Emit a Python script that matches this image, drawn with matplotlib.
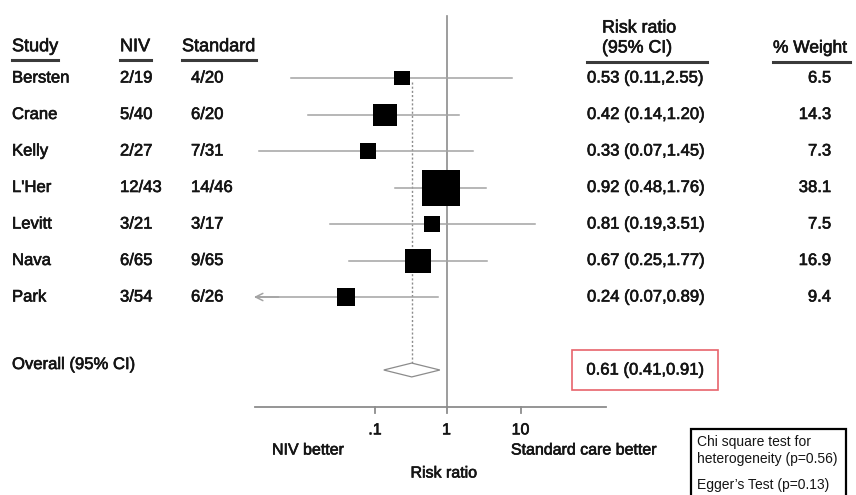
import numpy as np
import matplotlib
matplotlib.use('Agg')
import matplotlib.pyplot as plt
from matplotlib import transforms
from matplotlib import patheffects as pe
from matplotlib.patches import Rectangle, Polygon
from matplotlib.path import Path

plt.rcParams['font.family'] = ['Liberation Sans', 'DejaVu Sans']

# ---------------- data ----------------
studies = ["Bersten", "Crane", "Kelly", "L'Her", "Levitt", "Nava", "Park"]
niv = ["2/19", "5/40", "2/27", "12/43", "3/21", "6/65", "3/54"]
standard = ["4/20", "6/20", "7/31", "14/46", "3/17", "9/65", "6/26"]
rr = [0.53, 0.42, 0.33, 0.92, 0.81, 0.67, 0.24]
rr_lo = [0.11, 0.14, 0.07, 0.48, 0.19, 0.25, 0.07]
rr_hi = [2.55, 1.20, 1.45, 1.76, 3.51, 1.77, 0.89]
weight = [6.5, 14.3, 7.3, 38.1, 7.5, 16.9, 9.4]
off_scale_left = [False, False, False, False, False, False, True]
overall_rr, overall_lo, overall_hi = 0.61, 0.41, 0.91
xtick_labels = [".1", "1", "10"]

# ---------------- figure ----------------
W, H = 856, 495
fig = plt.figure(figsize=(W / 100, H / 100), dpi=100)
fig.patch.set_facecolor('white')

def fx(px):
    return px / W

def fy(py):
    return 1 - py / H

# forest axes: x pixels 255..606, full height
null_px, dec_px = 446.5, 162.0
x_left_px, x_right_px = 255, 606
ax = fig.add_axes([fx(x_left_px), 0, (x_right_px - x_left_px) / W, 1])
ax.set_xscale('log')
xmin = 10 ** ((x_left_px - null_px) / dec_px)
xmax = 10 ** ((x_right_px - null_px) / dec_px)
ax.set_xlim(xmin, xmax)
row0_px, row_px = 78.0, 36.5
ax.set_ylim((H - row0_px) / row_px + 1, (0 - row0_px) / row_px + 1)
ax.axis('off')

rows = np.arange(1, len(studies) + 1)
overall_row = len(studies) + 2
axis_row = overall_row + 1

ci_col = '#a3a3a3'
ref_col = '#8c8c8c'
txt_col = '#141414'
heavy = [pe.withStroke(linewidth=0.45, foreground=txt_col)]

# null line
ax.plot([1, 1], [(16 - row0_px) / row_px + 1, axis_row], color=ref_col, lw=1.2, zorder=1)
# overall dashed line
ax.plot([overall_rr, overall_rr], [1.1, overall_row], color=ref_col, lw=1.0,
        ls=(0, (1.5, 1.5)), zorder=1)

# CIs and squares
sq = Path([(-0.5, -0.47), (0.5, -0.47), (0.5, 0.47), (-0.5, 0.47), (-0.5, -0.47)],
          [Path.MOVETO, Path.LINETO, Path.LINETO, Path.LINETO, Path.CLOSEPOLY])
for r, m, lo, hi, w, clip in zip(rows, rr, rr_lo, rr_hi, weight, off_scale_left):
    if clip:
        ax.plot([xmin * 1.02, hi], [r, r], color=ci_col, lw=1.1, zorder=2)
        ax.annotate('', xy=(xmin * 0.985, r), xytext=(xmin * 1.4, r),
                    arrowprops=dict(arrowstyle='->', color=ci_col, lw=1.1,
                                    shrinkA=0, shrinkB=0, mutation_scale=13),
                    annotation_clip=False, zorder=2)
    else:
        ax.plot([lo, hi], [r, r], color=ci_col, lw=1.1, zorder=2)
    side_px = 6.15 * np.sqrt(w)
    ax.plot([m], [r], marker=sq, markersize=side_px * 0.72, color='black',
            markeredgewidth=0, linestyle='none', zorder=3)

# diamond
dh = 0.19
ax.add_patch(Polygon([(overall_lo, overall_row), (overall_rr, overall_row - dh),
                      (overall_hi, overall_row), (overall_rr, overall_row + dh)],
                     closed=True, facecolor='white', edgecolor=ref_col, lw=0.9, zorder=3))

# x axis
ax.plot([xmin, xmax], [axis_row, axis_row], color=ref_col, lw=1.3, clip_on=False)
tick_pos = [10 ** ((375 - null_px) / dec_px), 1.0, 10 ** ((520.5 - null_px) / dec_px)]
for tp, tl in zip(tick_pos, xtick_labels):
    ax.plot([tp, tp], [axis_row, axis_row + 0.18], color=ref_col, lw=1.3)
    ax.text(tp, axis_row + 0.64, tl, ha='center', va='center', fontsize=11.5,
            color=txt_col, path_effects=heavy)

# ---------------- text ----------------
tr = transforms.blended_transform_factory(fig.transFigure, ax.transData)
fs = 12

def ftext(px, py, s, **kw):
    kw.setdefault('fontsize', fs)
    kw.setdefault('color', txt_col)
    kw.setdefault('va', 'center')
    kw.setdefault('path_effects', heavy)
    fig.text(fx(px), fy(py), s, **kw)

def rtext(px, r, s, **kw):
    kw.setdefault('fontsize', fs)
    ax.text(fx(px), r, s, transform=tr, va='center', color=txt_col,
            path_effects=heavy, **kw)

def uline(x0, x1, py):
    fig.add_artist(plt.Line2D([fx(x0), fx(x1)], [fy(py), fy(py)], color='#3a3a3a',
                              lw=2.2, transform=fig.transFigure))

# headers
ftext(12, 46.7, "Study", ha='left', fontsize=13)
ftext(120, 46.7, "NIV", ha='left', fontsize=13)
ftext(182, 46.7, "Standard", ha='left', fontsize=13)
uline(12, 58, 59.5)
uline(120, 151, 59.5)
uline(182, 256, 59.5)
ftext(639, 28, "Risk ratio", ha='center', fontsize=12.8)
ftext(637, 48, "(95% CI)", ha='center', fontsize=12.8)
ftext(810, 48, "% Weight", ha='center', fontsize=12.5)
uline(587, 707, 61.7)
uline(773, 850, 61.7)

for r, s, a, b, m, lo, hi, w in zip(rows, studies, niv, standard, rr, rr_lo, rr_hi, weight):
    rtext(12, r, s, ha='left')
    rtext(120, r, a, ha='left')
    rtext(191, r, b, ha='left')
    rtext(587, r, f"{m:.2f} ({lo:.2f},{hi:.2f})", ha='left')
    rtext(831, r, f"{w:.1f}", ha='right')

rtext(12, overall_row - 0.15, "Overall (95% CI)", ha='left')
rtext(645, overall_row, f"{overall_rr:.2f} ({overall_lo:.2f},{overall_hi:.2f})", ha='center')
fig.add_artist(Rectangle((fx(572), fy(390)), (718 - 572) / W, 40 / H,
                         transform=fig.transFigure, fill=False, edgecolor='#e8646c', lw=1.2))

ftext(308, 450, "NIV better", ha='center', fontsize=11.5)
ftext(584, 450, "Standard care better", ha='center', fontsize=11.5)
ftext(444, 473, "Risk ratio", ha='center', fontsize=11.5)

# stats box
fig.add_artist(Rectangle((fx(691), fy(497)), (846 - 691) / W, (497 - 428.5) / H,
                         transform=fig.transFigure, fill=False, edgecolor='black', lw=1.6))
ftext(697, 442, "Chi square test for", ha='left', fontsize=10, path_effects=[])
ftext(697, 458.5, "heterogeneity (p=0.56)", ha='left', fontsize=10, path_effects=[])
ftext(697, 485, "Egger\u2019s Test (p=0.13)", ha='left', fontsize=10, path_effects=[])

fig.savefig('out.png', dpi=100, facecolor='white')
